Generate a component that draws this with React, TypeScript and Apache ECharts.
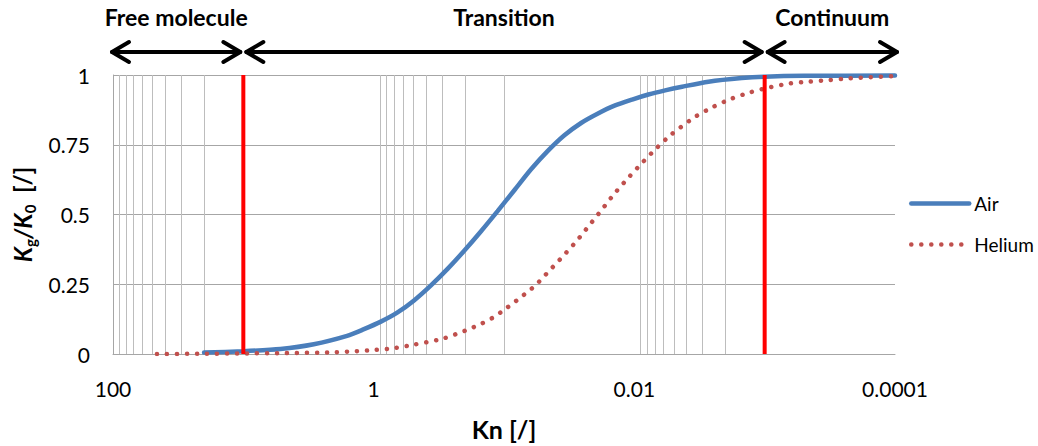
import React, { useEffect, useRef } from 'react';
import * as echarts from 'echarts';

// Knudsen number (x) and normalised conductivity Kg/K0 (y) for each gas
const airKn = [20, 10, 5.2, 2.88, 1.6, 1.2, 0.88, 0.66, 0.49, 0.365, 0.271, 0.202, 0.15, 0.112, 0.0833, 0.062, 0.0461, 0.0344, 0.0256, 0.019, 0.0142, 0.0104, 0.0078, 0.0058, 0.0043, 0.0027, 0.0015, 0.001, 0.0005, 0.0001];
const airRatio = [0.005, 0.01, 0.018, 0.035, 0.065, 0.088, 0.116, 0.148, 0.192, 0.245, 0.305, 0.37, 0.44, 0.512, 0.587, 0.662, 0.728, 0.784, 0.828, 0.862, 0.89, 0.912, 0.93, 0.945, 0.958, 0.976, 0.989, 0.994, 0.997, 0.998];

const heliumKn = [46, 20, 10, 5, 2, 1.5, 1, 0.7, 0.5, 0.3, 0.2, 0.15, 0.12, 0.1, 0.075, 0.0574, 0.0448, 0.0352, 0.0276, 0.0221, 0.0177, 0.0142, 0.0112, 0.00884, 0.00685, 0.00526, 0.00344, 0.0025, 0.00182, 0.00131, 0.00091, 0.00064, 0.00046, 0.000315, 0.000222, 0.0001];
const heliumRatio = [0, 0.001, 0.002, 0.003, 0.006, 0.009, 0.014, 0.021, 0.033, 0.054, 0.083, 0.108, 0.132, 0.158, 0.202, 0.246, 0.299, 0.351, 0.406, 0.462, 0.518, 0.575, 0.63, 0.682, 0.735, 0.785, 0.849, 0.885, 0.914, 0.937, 0.956, 0.97, 0.976, 0.982, 0.988, 0.996];

// Axis ticks
const xTickValues = [100, 1, 0.01, 0.0001];
const xTickLabels = ['100', '1', '0.01', '0.0001'];
const minorGridKn = [90, 80, 70, 60, 50, 40, 30, 20, 10, 0.9, 0.8, 0.7, 0.6, 0.5, 0.4, 0.3, 0.2, 0.1, 0.009, 0.008, 0.007, 0.006, 0.005, 0.004, 0.003, 0.002, 0.001];

// Flow regimes
const regimeNames = ['Free molecule', 'Transition', 'Continuum'];
const regimeBounds: [number, number][] = [[100, 10], [10, 0.001], [0.001, 0.0001]];
const regimeLimits = [10, 0.001];

const FONT = 'Lato, "Open Sans", sans-serif';

function pairs(xs: number[], ys: number[]) {
  return xs.map((x, i) => [x, ys[i]]);
}

function formatKn(v: number) {
  let best = 0;
  for (let i = 1; i < xTickValues.length; i++) {
    if (Math.abs(Math.log10(v) - Math.log10(xTickValues[i])) < Math.abs(Math.log10(v) - Math.log10(xTickValues[best]))) best = i;
  }
  return xTickLabels[best];
}

export default function App() {
  const ref = useRef<HTMLDivElement>(null);

  useEffect(() => {
    if (!ref.current) return;
    const chart = echarts.init(ref.current, undefined, { renderer: 'svg' });

    chart.setOption({
      animation: false,
      grid: { left: 113, right: 143, top: 75, bottom: 91 },
      legend: {
        data: ['Air', 'Helium'],
        orient: 'vertical',
        left: 904,
        top: 189,
        itemWidth: 58,
        itemHeight: 20,
        itemGap: 22,
        itemTextGap: 4,
        itemStyle: { opacity: 0 },
        lineStyle: { width: 'inherit', type: 'inherit', cap: 'inherit' },
        textStyle: { fontFamily: FONT, fontSize: 19, color: '#000' },
      },
      xAxis: {
        type: 'log',
        logBase: 100,
        inverse: true,
        min: 0.0001,
        max: 100,
        axisLine: { show: true, onZero: false, lineStyle: { color: '#a6a6a6', width: 1 } },
        axisTick: { show: false },
        splitLine: { show: false },
        axisLabel: { fontFamily: FONT, fontSize: 21, color: '#000', margin: 24, formatter: formatKn },
        name: 'Kn [/]',
        nameLocation: 'middle',
        nameGap: 62,
        nameTextStyle: { fontFamily: FONT, fontWeight: 'bold', fontSize: 25, color: '#000' },
      },
      yAxis: {
        type: 'value',
        min: 0,
        max: 1,
        interval: 0.25,
        axisLine: { show: true, onZero: false, lineStyle: { color: '#a6a6a6', width: 1 } },
        axisTick: { show: false },
        splitLine: { show: true, lineStyle: { color: '#a6a6a6', width: 1 } },
        axisLabel: { fontFamily: FONT, fontSize: 21, color: '#000', margin: 23 },
        name: '{k|K}{s|g}{k|/K}{s|0}{n|  [/]}',
        nameLocation: 'middle',
        nameRotate: 90,
        nameGap: 69,
        nameTextStyle: {
          rich: {
            k: { fontFamily: FONT, fontWeight: 'bold', fontStyle: 'italic', fontSize: 24, color: '#000', lineHeight: 30 },
            s: { fontFamily: FONT, fontWeight: 'bold', fontSize: 15, color: '#000', lineHeight: 15, verticalAlign: 'bottom' },
            n: { fontFamily: FONT, fontWeight: 'bold', fontSize: 24, color: '#000', lineHeight: 30 },
          },
        },
      },
      series: [
        {
          name: 'Air',
          type: 'line',
          data: pairs(airKn, airRatio),
          showSymbol: false,
          symbol: 'none',
          smooth: 0.25,
          z: 3,
          color: '#4a7ebb',
          lineStyle: { color: '#4a7ebb', width: 4.5, cap: 'round' },
        },
        {
          name: 'Helium',
          type: 'line',
          data: pairs(heliumKn, heliumRatio),
          showSymbol: false,
          symbol: 'none',
          smooth: 0.25,
          z: 3,
          color: '#c0504d',
          lineStyle: { color: '#c0504d', width: 4.5, type: [0.1, 9.9], cap: 'round' },
        },
      ],
    });

    // Minor gridlines, regime limits, arrows and titles, placed via the axis scales
    const px = (v: number) => chart.convertToPixel({ xAxisIndex: 0 }, v) as number;
    const py = (v: number) => chart.convertToPixel({ yAxisIndex: 0 }, v) as number;
    const yTop = py(1);
    const yBottom = py(0);
    const graphics: any[] = [];

    minorGridKn.forEach((v) => {
      const x = Math.round(px(v)) + 0.5;
      graphics.push({ type: 'line', z: 0, silent: true, shape: { x1: x, y1: yTop, x2: x, y2: yBottom }, style: { stroke: '#bdbdbd', lineWidth: 1 } });
    });

    regimeLimits.forEach((v) => {
      const x = px(v);
      graphics.push({ type: 'line', z: 10, silent: true, shape: { x1: x, y1: yTop, x2: x, y2: yBottom }, style: { stroke: '#ff0000', lineWidth: 4 } });
    });

    const arrowY = 52;
    const head = 17;
    const wing = 10;
    const stroke = { stroke: '#000', lineWidth: 4, lineCap: 'round', lineJoin: 'round', fill: null };
    regimeBounds.forEach(([from, to], i) => {
      const x1 = px(from) + (i === 0 ? -1 : 3);
      const x2 = px(to) - (i === regimeBounds.length - 1 ? -2 : 3);
      graphics.push({ type: 'line', shape: { x1, y1: arrowY, x2, y2: arrowY }, style: stroke, silent: true });
      graphics.push({ type: 'polyline', shape: { points: [[x1 + head, arrowY - wing], [x1, arrowY], [x1 + head, arrowY + wing]] }, style: stroke, silent: true });
      graphics.push({ type: 'polyline', shape: { points: [[x2 - head, arrowY - wing], [x2, arrowY], [x2 - head, arrowY + wing]] }, style: stroke, silent: true });
      graphics.push({
        type: 'text',
        x: (x1 + x2) / 2,
        y: 17,
        silent: true,
        style: {
          text: regimeNames[i],
          font: `bold 23px ${FONT}`,
          fill: '#000',
          textAlign: 'center',
          textVerticalAlign: 'middle',
          align: 'center',
          verticalAlign: 'middle',
        },
      });
    });
    chart.setOption({ graphic: graphics });

    return () => chart.dispose();
  }, []);

  return <div ref={ref} style={{ position: 'fixed', left: 0, top: 0, width: 1038, height: 446, background: '#fff' }} />;
}
